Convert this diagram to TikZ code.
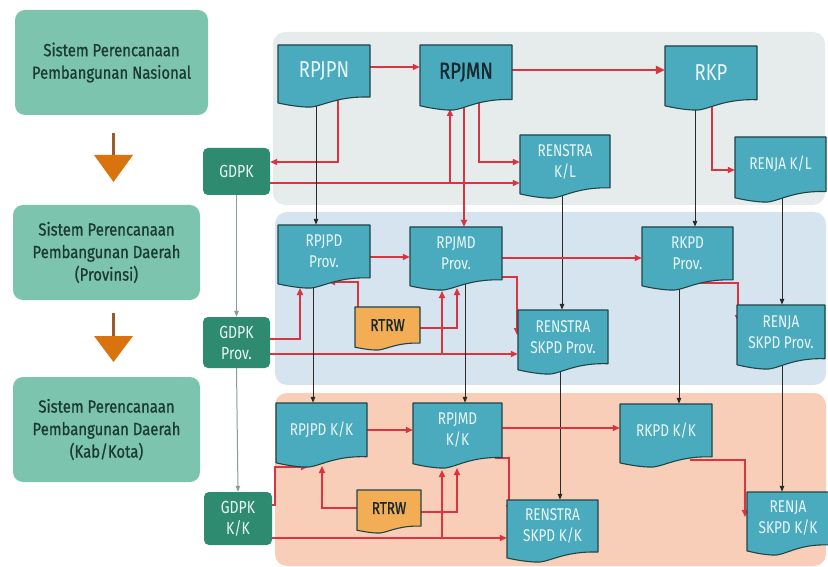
\documentclass[tikz,border=0pt]{standalone}
\usepackage{fontspec}
\setmainfont{Fira Sans}
\newfontfamily\cond[FakeStretch=0.8]{Fira Sans}
\newfontfamily\condB[FakeStretch=0.8,FakeBold=1.2]{Fira Sans}
\newfontfamily\condL[FakeStretch=0.85,FakeBold=0.8]{Fira Sans}
\usetikzlibrary{arrows.meta}
\definecolor{docfill}{HTML}{4AABBE}
\definecolor{docline}{HTML}{1F4549}
\definecolor{sysfill}{HTML}{7DC4AE}
\definecolor{systext}{HTML}{1B3A32}
\definecolor{gdpkfill}{HTML}{2E8B70}
\definecolor{orng}{HTML}{D9730D}
\definecolor{shaft}{HTML}{9A5A2A}
\definecolor{rtrwfill}{HTML}{F2AD55}
\definecolor{bandnat}{HTML}{E6EBEB}
\definecolor{bandprov}{HTML}{D6E4EF}
\definecolor{bandkk}{HTML}{F8CEB9}
\definecolor{redline}{HTML}{DA3440}
\definecolor{blkline}{HTML}{2A2A2A}
\definecolor{grayline}{HTML}{8C9C9C}
\definecolor{doctext}{HTML}{EAF7F9}
\definecolor{darktext}{HTML}{18282C}
\pgfdeclarelayer{bands}
\pgfdeclarelayer{conn}
\pgfsetlayers{bands,conn,main}
\tikzset{
  doclabel/.style={inner sep=0pt, align=center, text=doctext,
    font=\cond\fontsize{17}{21}\selectfont},
  biglabel/.style={font=\cond\fontsize{23}{26}\selectfont},
  sysbox/.style={rounded corners=10pt, fill=sysfill, align=center, text=systext,
    inner sep=0pt, font=\condL\fontsize{17.5}{22.5}\selectfont},
  gdpkbox/.style={rounded corners=5pt, fill=gdpkfill, align=center, text=doctext,
    inner sep=0pt, font=\cond\fontsize{17.5}{21}\selectfont},
  rtrwlabel/.style={text=darktext, font=\condB\fontsize{17}{21}\selectfont},
  redarr/.style={draw=redline, line width=1.7pt, -{Triangle[length=7pt,width=6pt]}},
  blkarr/.style={draw=blkline, line width=1pt, -{Triangle[length=6pt,width=4.5pt]}},
  grayarr/.style={draw=grayline, line width=1pt, -{Triangle[length=6pt,width=4.5pt]}},
}
% name x1 y1 x2 y2 fill labelstyle text
\newcommand\docu[8]{%
  \path[fill=#6, draw=docline, line width=1.1pt, line join=round]
    (#2,#3) -- (#4,#3) -- (#4,{#5-0.16*(#5-#3)})
    .. controls ({#2+0.6*(#4-#2)},{#5-0.18*(#5-#3)}) and ({#2+0.45*(#4-#2)},{#5+0.03*(#5-#3)}) .. ({#2+0.3*(#4-#2)},#5)
    .. controls ({#2+0.18*(#4-#2)},{#5-0.01*(#5-#3)}) and ({#2+0.08*(#4-#2)},{#5-0.04*(#5-#3)}) .. (#2,{#5-0.065*(#5-#3)})
    -- cycle;
  \node[doclabel,#7, minimum width={(#4-#2)*1pt}, minimum height={0.84*(#5-#3)*1pt}]
    (#1) at ({(#2+#4)/2},{#3+0.42*(#5-#3)}) {#8};
}
\begin{document}
\begin{tikzpicture}[x=1pt,y=-1pt]
\useasboundingbox (0,0) rectangle (828,567);

% bands
\begin{pgfonlayer}{bands}
\fill[white] (0,0) rectangle (828,567);
\fill[bandnat, rounded corners=12pt] (273,32) rectangle (825,205);
\fill[bandprov, rounded corners=12pt] (275,212) rectangle (826,385);
\fill[bandkk, rounded corners=12pt] (275,393) rectangle (826,566);
\end{pgfonlayer}

% left system boxes
\node[sysbox, minimum width=193pt, minimum height=105pt] (sysnas) at (111.5,62.5)
  {Sistem Perencanaan\\Pembangunan Nasional};
\node[sysbox, minimum width=187pt, minimum height=95pt] (sysprov) at (106.5,252.5)
  {Sistem Perencanaan\\Pembangunan Daerah\\(Provinsi)};
\node[sysbox, minimum width=187pt, minimum height=105pt] (syskk) at (106.5,429.5)
  {Sistem Perencanaan\\Pembangunan Daerah\\(Kab/Kota)};

% orange arrows
\coordinate (oa1) at (113.5,133);
\coordinate (oa2) at (113.5,313);
\draw[shaft, line width=2.6pt] (oa1) -- ++(0,24);
\fill[orng] (94,155) -- (133,155) -- (113.5,182) -- cycle;
\draw[shaft, line width=2.6pt] (oa2) -- ++(0,26);
\fill[orng] (94,336) -- (133,336) -- (113.5,362) -- cycle;

% GDPK boxes
\node[gdpkbox, minimum width=67pt, minimum height=47pt] (gdpk) at (236.5,171.5) {GDPK};
\node[gdpkbox, minimum width=67pt, minimum height=51pt] (gdpkprov) at (236.5,342.5) {GDPK\\Prov.};
\node[gdpkbox, minimum width=68pt, minimum height=53pt] (gdpkkk) at (238,518.5) {GDPK\\K/K};

% documents national
\docu{rpjpn}{278}{45}{370}{107}{docfill}{biglabel}{RPJPN}
\docu{rpjmn}{420}{45}{512}{110}{docfill}{biglabel,text=darktext,font=\condB\fontsize{23}{26}\selectfont}{RPJMN}
\docu{rkp}{665}{46}{757}{110}{docfill}{biglabel}{RKP}
\docu{renstrakl}{520}{135}{610}{198}{docfill}{}{RENSTRA\\K/L}
\docu{renjakl}{735}{137}{826}{202}{docfill}{}{RENJA K/L}
% province
\docu{rpjpdprov}{278}{225}{370}{288}{docfill}{}{RPJPD\\Prov.}
\docu{rpjmdprov}{410}{227}{502}{290}{docfill}{}{RPJMD\\Prov.}
\docu{rkpdprov}{642}{227}{733}{290}{docfill}{}{RKPD\\Prov.}
\docu{renstraprov}{518}{310}{608}{374}{docfill}{}{RENSTRA\\SKPD Prov.}
\docu{renjaprov}{737}{305}{825}{369}{docfill}{}{RENJA\\SKPD Prov.}
\docu{rtrwprov}{355}{307}{420}{350}{rtrwfill}{rtrwlabel}{RTRW}
% kab/kota
\docu{rpjpdkk}{276}{403}{367}{467}{docfill}{}{RPJPD K/K}
\docu{rpjmdkk}{413}{403}{502}{468}{docfill}{}{RPJMD\\K/K}
\docu{rkpdkk}{620}{404}{712}{467}{docfill}{}{RKPD K/K}
\docu{renstrakk}{507}{500}{598}{562}{docfill}{}{RENSTRA\\SKPD K/K}
\docu{renjakk}{747}{492}{829}{555}{docfill}{}{RENJA\\SKPD K/K}
\docu{rtrwkk}{357}{490}{421}{533}{rtrwfill}{rtrwlabel}{RTRW}

\begin{pgfonlayer}{conn}
% GDPK chain
\draw[grayarr] (gdpk.south) -- (gdpkprov.north);
\draw[grayarr] (gdpkprov.south) -- (gdpkkk.north);

% national red
\draw[redarr] (rpjpn.east |- 0,67) -- (rpjmn.west |- 0,67);
\draw[redarr, line width=2.8pt, -{Triangle[length=9pt,width=8pt]}] (rpjmn.east |- 0,70) -- (rkp.west |- 0,70);
\draw[redarr] (338,0 |- rpjpn.center) |- (gdpk.east |- 0,162);
\draw[redarr] (gdpk.east |- 0,183) -- (renstrakl.west |- 0,183);
\draw[redarr] (450,183) -- (450,109);
\draw[redarr] (464,0 |- rpjmn.center) -- (rpjmdprov.north -| 464,0);
\draw[redarr] (479,0 |- rpjmn.center) |- (renstrakl.west |- 0,162);
\draw[redarr] (712,0 |- rkp.center) |- (renjakl.west |- 0,170);
% national black
\draw[blkarr] (316,0 |- rpjpn.center) -- (rpjpdprov.north -| 316,0);
\draw[blkarr] (695,0 |- rkp.center) -- (rkpdprov.north -| 695,0);
\draw[blkarr] (562,0 |- renstrakl.center) -- (renstraprov.north -| 562,0);
\draw[blkarr] (782,0 |- renjakl.center) -- (renjaprov.north -| 782,0);

% province red
\draw[redarr] (rpjpdprov.east |- 0,257) -- (rpjmdprov.west |- 0,257);
\draw[redarr] (rpjmdprov.east |- 0,258) -- (rkpdprov.west |- 0,258);
\draw[redarr] (495,277) -- (517,277) -- (517,335);
\draw[redarr] (gdpkprov.east |- 0,354) -- (renstraprov.west |- 0,354);
\draw[redarr] (442,354) -- (442,291);
\draw[redarr] (rtrwprov.east |- 0,328) -| (457,288);
\draw[redarr] (gdpkprov.east |- 0,339) -| (300,288);
\draw[redarr] (358,0 |- rtrwprov.center) |- (328,282);
\draw[redarr] (697,283) -- (738,283) -- (738,322);
% province black
\draw[blkarr] (313,0 |- rpjpdprov.center) -- (rpjpdkk.north -| 313,0);
\draw[blkarr] (465,0 |- rpjmdprov.center) -- (rpjmdkk.north -| 465,0);
\draw[blkarr] (679,0 |- rkpdprov.center) -- (rkpdkk.north -| 679,0);
\draw[blkarr] (560,0 |- renstraprov.center) -- (renstrakk.north -| 560,0);
\draw[blkarr] (782,0 |- renjaprov.center) -- (renjakk.north -| 782,0);

% kab/kota red
\draw[redarr] (rpjpdkk.east |- 0,430) -- (rpjmdkk.west |- 0,430);
\draw[redarr] (rpjmdkk.east |- 0,428) -- (rkpdkk.west |- 0,428);
\draw[redarr] (495,458) -- (509,458) -- (509,512);
\draw[redarr] (gdpkkk.east |- 0,538) -- (renstrakk.west |- 0,538);
\draw[redarr] (442,538) -- (442,470);
\draw[redarr] (rtrwkk.east |- 0,512) -| (457,468);
\draw[redarr] (rtrwkk.west |- 0,508) -| (322,466);
\draw[redarr] (gdpkkk.east |- 0,505) -- (275,505) |- (308,467);
\draw[redarr] (690,460) -- (745,460) -- (745,517);
\end{pgfonlayer}
\end{tikzpicture}
\end{document}
